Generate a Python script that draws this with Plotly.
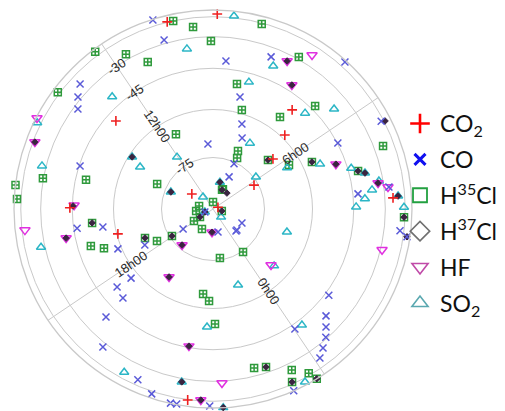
import numpy as np
import plotly.graph_objects as go

# ---- observations: latitude (deg) and local time (hours) per species ----
co2_lat = [-14.5, -11.5, -48.8, -82.5, -50.4, -58.8, -66.9, -76.2, -88.5, -44.0, -60.4, -14.5, -25.0]
co2_hour = [10.65, 9.65, 12.92, 13.37, 7.16, 6.79, 6.39, 5.75, 5.0, 15.7, 16.71, 21.23, 3.97]

co_lat = [-5, -27.9, -41.7, -23.5, -28.2, -32.4, -70.9, -45.4, -75.5, -79.6, -35.1, -6.8, -54.6,
          -63.2, -67.3, -17.6, -44.8, -42.9, -46.4, -55.9, -58.8, -67.2, -79.6, -83.2, -80.8,
          -80.7, -57.4, -51.6, -50.5, -40.2, -27.5, -20.3, -11.8, -3, -4.5, -8, -43.5, -38.6,
          -34.8, -30.9, -27, -22.8, -43.1, -2, -18.9, -10, -27, -80.8, -87.5]
co_hour = [10.91, 10.81, 9.4, 12.85, 13.09, 13.3, 10.03, 14.54, 8.07, 7.96, 8.34, 6.94, 8.83,
           8.48, 8.25, 5.57, 5.59, 4.13, 16.27, 16.35, 17.25, 17.59, 17.98, 22.55, 0.99,
           2.01, 18.41, 18.34, 18.71, 18.75, 19.16, 20.15, 20.51, 20.91, 21.03, 21.67, 1.29, 0.84,
           0.65, 0.49, 0.29, 0.11, 0.02, 23.33, 3.29, 3.19, 4.21, 0.82, 17.1]

h35cl_lat = [-15, -23.1, -32.4, -9.3, -26.8, -36.1, -12.6, -50.2, -65.2, -29.7, -49.1, -72.1,
             -71.5, -73.5, -83.6, -15.9, -28.7, -58.8, -55.1, -43.2, -24.3, -68.3, -63.8, -56.6,
             -41.1, -83.9, -52.3, -50.1, -54.4, -68.2, -71.1, -75.7, -83.4, -83.5, -85.6, -85.1,
             -85.9, -87.4, -75.6, -64.5, -62.4, -54.7, -74.7, -34.4, -33.1, -25.7, -17.3, -17,
             -2, -16.1, -1, -9.5, -88]
h35cl_hour = [10.53, 10.15, 9.78, 12.19, 11.69, 11.33, 13.27, 9.01, 11.49, 15.05, 14.87, 14.13,
              8.18, 8.05, 7.96, 8.75, 7.77, 8.65, 7.33, 6.75, 5.09, 6.51, 5.74, 5.43,
              4.71, 8.05, 16.17, 16.86, 17.05, 17.27, 17.71, 17.96, 19.81, 17.89, 17.84, 16.18,
              14.93, 2.9, 22.27, 21.29, 21.57, 21.8, 0.06, 22.7, 22.97, 23.47, 23.75, 23.37,
              23.83, 3.57, 15.27, 15.54, 9.73]

h37cl_lat = [-61.1, -76.8, -82, -68.3, -56.6, -48.9, -41.1, -38.3, -32.9, -21.2, -13.8, -10,
             -83.9, -83.9, -33.7, -42.4, -52.3, -68.2, -75.7, -76.2, -83.3, -85.6, -87.4, -87.5,
             -41.2, -66, -45.6, -28, -15.9, -2, -33.1, -17, -2, -16.1, -45.3, -17]
h37cl_hour = [13.55, 14.27, 8.77, 6.51, 5.43, 5.07, 4.71, 4.62, 4.33, 4.0, 5.54, 3.19,
              8.05, 6.99, 7.96, 7.57, 16.17, 17.27, 17.96, 19.02, 21.57, 17.84, 2.9, 17.1,
              16.48, 19.54, 21.07, 21.05, 21.49, 21.93, 22.97, 23.37, 23.83, 3.57, 15.65, 14.36]

hf_lat = [-33.7, -23.1, -42.4, -32.9, -27.6, -29.1, -66.1, -28.9, -45.6, -45.7, -41.2, -18,
          -5.3, -17, -48.9, -83.3, -15.9, -76.2, -66]
hf_hour = [7.96, 7.55, 7.57, 4.33, 4.21, 2.83, 0.8, 21.93, 21.07, 15.63, 16.48, 16.16,
           13.91, 14.36, 5.07, 21.57, 21.49, 19.02, 19.54]

so2_lat = [-12.8, -35.4, -40.7, -71.5, -61.1, -65, -27.6, -85.5, -82, -38.8, -48.5, -48.1,
           -37.9, -67.7, -64.8, -54.3, -43.6, -38.3, -32.3, -36.4, -40.1, -44, -16.3, -74.4,
           -86.7, -87.5, -67.1, -65.2, -66.3, -42.7, -10, -53.6, -21, -2, -28, -27.7, -10.2,
           -21.2, -76.8]
so2_hour = [9.32, 10.35, 12.53, 12.05, 13.55, 13.74, 14.79, 12.39, 8.77, 8.21, 8.68, 6.81,
            6.37, 7.78, 5.67, 5.25, 4.83, 4.62, 4.37, 4.19, 3.99, 3.79, 3.77, 6.18,
            0.73, 17.1, 2.58, 0.87, 22.95, 0.23, 23.6, 21.54, 19.83, 21.93, 21.05, 16.57, 13.99,
            4.0, 14.27]

# ---- grid / labels ----
grid_lats = [-75, -60, -45, -30, -15]
radial_label_lats = [-75, -45, -30]
hour_ticks = [0, 6, 12, 18]
hour_labels = ["0h00", "6h00", "12h00", "18h00"]

W, H = 505, 411
CX, CY, RAD = 213, 209, 199   # centre and radius of the polar disc, px
ROT = 304                     # screen angle (deg) of the 0h00 direction
GRID = "#c9c9c9"


def proj(lat):
    """Orthographic distance from the pole (1 = equator)."""
    return np.cos(np.radians(np.asarray(lat, dtype=float)))


def to_theta(hours):
    return np.asarray(hours, dtype=float) * 15.0


def to_paper(r, hour):
    a = np.radians(ROT + hour * 15.0)
    px = CX + r * RAD * np.cos(a)
    py = CY - r * RAD * np.sin(a)
    return px / W, 1 - py / H


def upright(angle_deg):
    t = -(angle_deg % 180)
    return t + 180 if t < -90 else t


def open_marker(symbol, size, color, width):
    return dict(symbol=symbol, size=size, color=color, line=dict(color=color, width=width))


species = [
    ("CO<sub>2</sub>", co2_lat, co2_hour,
     open_marker("cross-thin-open", 7, "#ee2020", 1.6),
     open_marker("cross-thin-open", 14, "#ff0000", 2.6)),
    ("CO", co_lat, co_hour,
     open_marker("x-thin-open", 7, "#5a5ad8", 1.5),
     open_marker("x-thin-open", 11, "#1010f0", 3)),
    ("H<sup>35</sup>Cl", h35cl_lat, h35cl_hour,
     open_marker("square-cross-open", 7, "#2f9a3c", 1.5),
     open_marker("square-open", 14, "#22a040", 1.8)),
    ("H<sup>37</sup>Cl", h37cl_lat, h37cl_hour,
     dict(symbol="diamond", size=5, color="#3a2440", line=dict(color="#3a2440", width=1)),
     open_marker("diamond-open", 15, "#707070", 1.6)),
    ("HF", hf_lat, hf_hour,
     open_marker("triangle-down-open", 9, "#e030e0", 1.5),
     open_marker("triangle-down-open", 14, "#c04aa8", 1.6)),
    ("SO<sub>2</sub>", so2_lat, so2_hour,
     open_marker("triangle-up-open", 8, "#2cb6c6", 1.5),
     open_marker("triangle-up-open", 14, "#5aa8b0", 1.6)),
]

fig = go.Figure()

# legend entries (large symbols)
for i, (name, _, _, _, leg) in enumerate(species):
    fig.add_trace(go.Scatterpolar(r=[None], theta=[None], mode="markers", name=name,
                                  marker=leg, legendgroup=str(i), showlegend=True))

# data markers, drawn in an order that keeps the small marks on top
draw_order = [2, 5, 4, 3, 1, 0]
for i in draw_order:
    name, lat, hour, mk, _ = species[i]
    fig.add_trace(go.Scatterpolar(r=proj(lat), theta=to_theta(hour), mode="markers",
                                  marker=mk, showlegend=False, cliponaxis=False,
                                  hoverinfo="skip"))

annotations = []
for h, txt in zip(hour_ticks, hour_labels):
    x, y = to_paper(0.5, h)
    annotations.append(dict(x=x, y=y, xref="paper", yref="paper", text=txt, showarrow=False,
                            textangle=upright(ROT + h * 15), xanchor="center", yanchor="middle",
                            font=dict(family="Liberation Sans", size=13, color="#2a2a2a")))
for lat in radial_label_lats:
    x, y = to_paper(float(proj(lat)), 12)
    annotations.append(dict(x=x, y=y, xref="paper", yref="paper", text=str(lat),
                            showarrow=False, textangle=upright(ROT + 12 * 15 - 90),
                            xanchor="center", yanchor="middle",
                            font=dict(family="Liberation Sans", size=13, color="#2a2a2a")))

fig.update_layout(
    width=W, height=H,
    margin=dict(l=0, r=0, t=0, b=0),
    paper_bgcolor="white",
    polar=dict(
        domain=dict(x=[(CX - RAD) / W, (CX + RAD) / W],
                    y=[1 - (CY + RAD) / H, 1 - (CY - RAD) / H]),
        bgcolor="white",
        radialaxis=dict(range=[0, 1], tickvals=list(proj(grid_lats)), showticklabels=False,
                        ticks="", showline=False, gridcolor=GRID, gridwidth=1.3),
        angularaxis=dict(rotation=ROT, direction="counterclockwise", thetaunit="degrees",
                         tickvals=[h * 15 for h in hour_ticks], showticklabels=False, ticks="",
                         showline=True, linecolor=GRID, linewidth=1.3,
                         gridcolor=GRID, gridwidth=1.3),
    ),
    legend=dict(x=400 / W, y=1 - 102 / H, xanchor="left", yanchor="top",
                font=dict(family="Lato", size=23, color="#111"),
                tracegroupgap=3, itemwidth=30, bgcolor="rgba(0,0,0,0)"),
    annotations=annotations,
    showlegend=True,
)

fig.write_html("out.html")
